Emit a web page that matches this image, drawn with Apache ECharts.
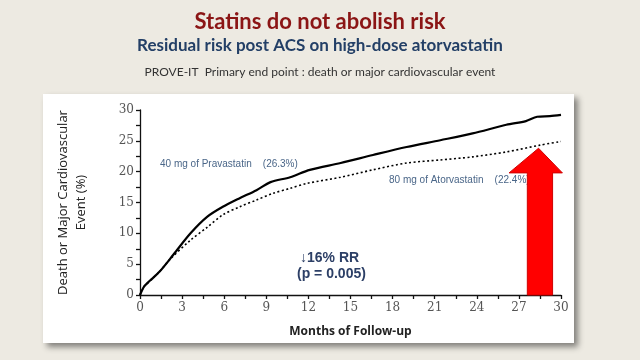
<!DOCTYPE html>
<html><head><meta charset="utf-8">
<script src="https://cdn.jsdelivr.net/npm/echarts@6/dist/echarts.min.js"></script>
<style>html,body{margin:0;padding:0;background:#EDEAE2;}#c{width:640px;height:360px;}</style>
</head><body><div id="c"></div>
<script>
// Kaplan-Meier style cumulative event curves (months, %)
var pravaMonths = [0, 0.3, 0.7, 1.4, 2.4, 3.6, 4.8, 5.9, 7.1, 8.3, 9.3, 10.7, 12.1, 14.3, 16.6, 19.0, 21.4, 23.7, 26.1, 27.5, 28.3, 29.2, 30];
var pravaValues = [0, 1.4, 2.3, 3.8, 6.6, 10.0, 12.7, 14.3, 15.7, 17.0, 18.3, 19.1, 20.3, 21.4, 22.7, 24.0, 25.1, 26.2, 27.6, 28.2, 28.9, 29.0, 29.2];
var atorvaMonths = [0, 0.3, 0.7, 1.4, 2.1, 3.6, 4.8, 5.9, 7.1, 8.3, 9.5, 10.7, 11.9, 14.3, 16.6, 19.0, 21.4, 23.7, 26.1, 28.5, 30];
var atorvaValues = [0, 1.4, 2.3, 3.8, 5.7, 8.9, 11.0, 13.0, 14.3, 15.4, 16.5, 17.3, 18.1, 19.1, 20.3, 21.4, 21.9, 22.4, 23.2, 24.3, 24.9];
var xTicks = [0, 3, 6, 9, 12, 15, 18, 21, 24, 27, 30];
var yTicks = [0, 5, 10, 15, 20, 25, 30];
// arrow annotation in data units: [tipMonth, tipValue, headBaseValue, headLeft, headRight, shaftLeft, shaftRight, baseValue]
var arrowGeom = [[28.4, 23.8, 19.8, 26.3, 30.1, 27.6, 29.4, 0]];

function pairs(xs, ys){ return xs.map(function(x,i){ return [x, ys[i]]; }); }

var chart = echarts.init(document.getElementById('c'), null, {renderer:'canvas'});
var labelColor = '#4A6688';
var option = {
  backgroundColor: '#EDEAE2',
  animation: false,
  grid: {left: 140, right: 79, top: 110, bottom: 65, containLabel: false},
  xAxis: {
    type: 'value', min: 0, max: 30, interval: 3,
    axisLine: {show: true, lineStyle: {color: '#111', width: 1.3}},
    axisTick: {show: true, length: 4, lineStyle: {color: '#111', width: 1.3}},
    minorTick: {show: true, splitNumber: 2, length: 4, lineStyle: {color: '#111', width: 1.3}},
    splitLine: {show: false},
    axisLabel: {color: '#555', fontFamily: 'DejaVu Serif', fontSize: 12, margin: 7,
      formatter: function(v){ return xTicks.indexOf(v) >= 0 ? String(v) : ''; }},
    name: 'Months of Follow-up', nameLocation: 'middle', nameGap: 31,
    nameTextStyle: {color: '#222', fontFamily: 'Open Sans', fontWeight: 'bold', fontSize: 12}
  },
  yAxis: {
    type: 'value', min: 0, max: 30, interval: 5,
    axisLine: {show: true, lineStyle: {color: '#111', width: 1.3}},
    axisTick: {show: true, length: 4, lineStyle: {color: '#111', width: 1.3}},
    minorTick: {show: true, splitNumber: 2, length: 4, lineStyle: {color: '#111', width: 1.3}},
    splitLine: {show: false},
    axisLabel: {color: '#555', fontFamily: 'DejaVu Serif', fontSize: 12, margin: 6,
      formatter: function(v){ return yTicks.indexOf(v) >= 0 ? String(v) : ''; }},
    name: 'Death or Major Cardiovascular\nEvent (%)', nameLocation: 'middle', nameGap: 50, nameRotate: 90,
    nameTextStyle: {color: '#222', fontFamily: 'Open Sans', fontSize: 13, lineHeight: 18}
  },
  series: [
    {type: 'line', data: pairs(pravaMonths, pravaValues), showSymbol: false, smooth: 0.3,
      lineStyle: {color: '#000', width: 2.2}, z: 3},
    {type: 'line', data: pairs(atorvaMonths, atorvaValues), showSymbol: false, smooth: 0.3,
      lineStyle: {color: '#000', width: 1.6, type: [2, 2.5]}, z: 3},
    {type: 'custom', data: arrowGeom, z: 5,
      renderItem: function(params, api){
        var tip = api.coord([api.value(0), api.value(1)]);
        var hl = api.coord([api.value(3), api.value(2)]);
        var hr = api.coord([api.value(4), api.value(2)]);
        var sl = api.coord([api.value(5), api.value(2)]);
        var sr = api.coord([api.value(6), api.value(2)]);
        var bl = api.coord([api.value(5), api.value(7)]);
        var br = api.coord([api.value(6), api.value(7)]);
        return {type: 'polygon', shape: {points: [tip, hr, sr, br, bl, sl, hl]},
          style: {fill: '#FF0000', stroke: '#D00000', lineWidth: 1}};
      }}
  ],
  graphic: [
    {type: 'rect', left: 43, top: 94, shape: {width: 531, height: 249}, z: -10,
      style: {fill: '#FFFFFF', shadowBlur: 6, shadowOffsetX: 4, shadowOffsetY: 4, shadowColor: 'rgba(0,0,0,0.45)'}},
    {type: 'text', left: 'center', top: 11, style: {text: 'Statins do not abolish risk', fill: '#8B1515',
      font: 'bold 22px Lato', textAlign: 'center'}},
    {type: 'text', left: 'center', top: 37, style: {text: 'Residual risk post ACS on high-dose atorvastatin', fill: '#233F66',
      font: 'bold 17px Lato'}},
    {type: 'text', left: 'center', top: 66, style: {text: 'PROVE-IT  Primary end point : death or major cardiovascular event', fill: '#333',
      font: '12px Lato'}},
    {type: 'text', left: 160, top: 159, z: 10, style: {text: '40 mg of Pravastatin    (26.3%)', fill: labelColor, font: '10px "Liberation Sans"'}},
    {type: 'text', left: 389, top: 175, z: 2, style: {text: '80 mg of Atorvastatin    (22.4%)', fill: labelColor, font: '10px "Liberation Sans"'}},
    {type: 'text', left: 300, top: 251, z: 10, style: {text: '\u219316% RR', fill: '#2C3F66', font: 'bold 14px "Liberation Sans"'}},
    {type: 'text', left: 297, top: 267, z: 10, style: {text: '(p = 0.005)', fill: '#2C3F66', font: 'bold 14px "Liberation Sans"'}}
  ]
};
chart.setOption(option);
</script></body></html>
